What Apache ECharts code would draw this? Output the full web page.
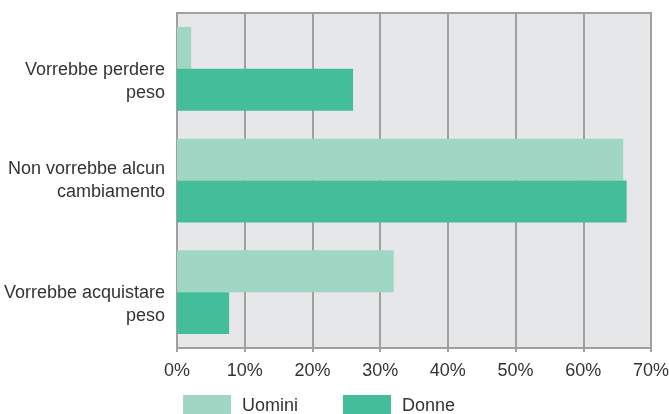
<!DOCTYPE html>
<html>
<head>
    <meta charset="utf-8">
    <script src="https://cdn.jsdelivr.net/npm/echarts@6/dist/echarts.min.js"></script>
    <style>
        body { margin: 0; background: #fff; }
    </style>
</head>
<body>
<div id="main" style="width:669px;height:414px"></div>
<script type="text/javascript">
    // dati
    var categorie = ['Vorrebbe perdere\npeso', 'Non vorrebbe alcun\ncambiamento', 'Vorrebbe acquistare\npeso'];
    var uomini = [2.1, 65.9, 32.0];
    var donne = [26.0, 66.4, 7.7];
    var tickValori = [0, 10, 20, 30, 40, 50, 60, 70];
    // spostamento verticale delle etichette (come nell'originale)
    var spostaEtichette = [26, 0, 24];

    var font = '"Liberation Sans Narrow", "Liberation Sans", sans-serif';
    var grigio = '#a0a0a0';
    var myChart = echarts.init(document.getElementById('main'));

    var stiliRich = { t: { fontFamily: font, fontSize: 18, color: '#333', lineHeight: 23 } };
    spostaEtichette.forEach(function (s) {
        if (s !== 0) stiliRich['s' + Math.abs(s)] = { fontSize: 1, lineHeight: Math.abs(s) };
    });

    option = {
        animation: false,
        grid: {
            left: 177,
            right: 18,
            top: 13,
            bottom: 66,
            outerBoundsMode: 'none',
            show: true,
            backgroundColor: '#e6e7e9',
            borderColor: grigio,
            borderWidth: 2
        },
        legend: {
            data: ['Uomini', 'Donne'],
            left: 178,
            top: 390,
            itemWidth: 48,
            itemHeight: 22,
            itemGap: 45,
            icon: 'rect',
            textStyle: { fontFamily: font, fontSize: 18, color: '#333', padding: [0, 0, 0, 6] }
        },
        xAxis: {
            type: 'value',
            min: tickValori[0],
            max: tickValori[tickValori.length - 1],
            interval: 10,
            axisLine: { show: true, lineStyle: { color: grigio, width: 2 } },
            axisTick: { show: true, length: 4, lineStyle: { color: grigio, width: 2 } },
            splitLine: { show: true, lineStyle: { color: grigio, width: 2 } },
            axisLabel: {
                formatter: '{value}%',
                fontFamily: font,
                fontSize: 18,
                color: '#333',
                margin: 14
            }
        },
        yAxis: {
            type: 'category',
            inverse: true,
            data: categorie,
            axisLine: { show: true, lineStyle: { color: grigio, width: 2 } },
            axisTick: { show: false },
            axisLabel: {
                fontFamily: font,
                fontSize: 18,
                color: '#333',
                margin: 12,
                align: 'right',
                formatter: function (v, i) {
                    var s = spostaEtichette[i];
                    var righe = v.split('\n').map(function (r) { return '{t|' + r + '}'; }).join('\n');
                    if (s > 0) return '{s' + s + '| }\n' + righe;
                    if (s < 0) return righe + '\n{s' + (-s) + '| }';
                    return righe;
                },
                rich: stiliRich
            }
        },
        series: [{
            name: 'Uomini',
            type: 'bar',
            data: uomini,
            barGap: '0%',
            barCategoryGap: '25%',
            itemStyle: { color: '#9fd7c4' }
        }, {
            name: 'Donne',
            type: 'bar',
            data: donne,
            itemStyle: { color: '#43bd9a' }
        }]
    };
    myChart.setOption(option);
</script>
</body>
</html>
